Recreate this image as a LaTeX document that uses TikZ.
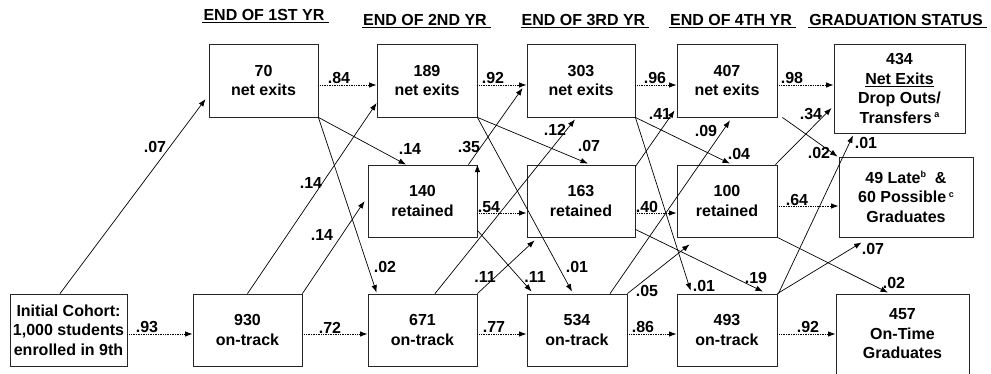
\documentclass[tikz,border=0pt]{standalone}
\usepackage{fontspec}
\setmainfont{Liberation Sans}
\usetikzlibrary{arrows.meta}
\newcommand{\supx}[1]{\raisebox{5.5pt}{\fontsize{9}{9}\selectfont #1}}
\begin{document}
\begin{tikzpicture}[x=1pt,y=-1pt,
  txt/.style={font=\bfseries\fontsize{16}{19.5}\selectfont},
  box/.style={txt, draw=black!85, line width=0.8pt, inner sep=0pt, align=center, fill=white},
  lab/.style={txt, inner sep=0pt},
  hdr/.style={txt, inner sep=0pt, anchor=base},
  arr/.style={-{Latex[length=7.5pt,width=5.5pt]}, line width=0.7pt, black},
  darr/.style={arr, densely dotted, line width=0.9pt}
]
\useasboundingbox[fill=white] (0,0) rectangle (991,373);

% headers
\node[hdr] (h1) at (264,20.7) {END OF 1ST YR};
\node[hdr] (h2) at (425,25.7) {END OF 2ND YR};
\node[hdr] (h3) at (583.5,25.7) {END OF 3RD YR};
\node[hdr] (h4) at (731,25.7) {END OF 4TH YR};
\node[hdr] (h5) at (896,25.7) {GRADUATION STATUS};
\foreach \h in {h1,h2,h3,h4,h5}
  \draw[line width=0.8pt] ([xshift=-1pt,yshift=-2pt]\h.base west) -- ([xshift=4pt,yshift=-2pt]\h.base east);

% boxes
\node[box, minimum width=117pt, minimum height=72pt] (init) at (68.5,330) {Initial Cohort:\\1,000 students\\enrolled in 9th};
\node[box, minimum width=109pt, minimum height=72pt] (o1) at (247.5,330) {930\\on-track};
\node[box, minimum width=109pt, minimum height=73pt] (e1) at (263.5,80.5) {70\\net exits};
\node[box, minimum width=100pt, minimum height=73pt] (e2) at (427,80.5) {189\\net exits};
\node[box, minimum width=109pt, minimum height=72pt] (r2) at (422.5,201) {140\\retained};
\node[box, minimum width=109pt, minimum height=72pt] (o2) at (422.5,330) {671\\on-track};
\node[box, minimum width=108pt, minimum height=73pt] (e3) at (581,80.5) {303\\net exits};
\node[box, minimum width=108pt, minimum height=72pt] (r3) at (581,201) {163\\retained};
\node[box, minimum width=100pt, minimum height=72pt] (o3) at (577,330) {534\\on-track};
\node[box, minimum width=100pt, minimum height=73pt] (e4) at (727,80.5) {407\\net exits};
\node[box, minimum width=100pt, minimum height=72pt] (r4) at (727,201) {100\\retained};
\node[box, minimum width=100pt, minimum height=72pt] (o4) at (727,330) {493\\on-track};
\node[box, minimum width=131pt, minimum height=89pt] (gx) at (899.5,88.5) {434\\\underline{Net Exits}\\Drop Outs/\\Transfers\,\supx{a}};
\node[box, minimum width=134pt, minimum height=80pt] (gl) at (906,197) {49 Late\supx{b}\ \ \&\\60 Possible\,\supx{c}\\Graduates};
\node[box, minimum width=133pt, minimum height=80pt] (gt) at (902.5,334) {457\\On-Time\\Graduates};

% horizontal (dotted) connectors
\draw[darr] ([yshift=-4pt]init.east) -- ([yshift=-4pt]o1.west);
\draw[darr] ([yshift=-4pt]o1.east) -- ([yshift=-4pt]o2.west);
\draw[darr] ([yshift=-4pt]o2.east) -- ([yshift=-4pt]o3.west);
\draw[darr] ([yshift=-4pt]o3.east) -- ([yshift=-4pt]o4.west);
\draw[darr] ([yshift=-4pt]o4.east) -- (gt.west);
\draw[darr] ([yshift=-4.5pt]e1.east) -- ([yshift=-4.5pt]e2.west);
\draw[darr] ([yshift=-4.5pt]e2.east) -- ([yshift=-4.5pt]e3.west);
\draw[darr] ([yshift=-4.5pt]e3.east) -- ([yshift=-4.5pt]e4.west);
\draw[darr] ([yshift=-4.5pt]e4.east) -- ([yshift=3.5pt]gx.west);
\draw[darr] ([yshift=-12pt]r2.east) -- ([yshift=-12pt]r3.west);
\draw[darr] ([yshift=-12pt]r3.east) -- ([yshift=-12pt]r4.west);
\draw[darr] ([yshift=-5pt]r4.east) -- ([yshift=-9pt]gl.west);

% diagonal connectors
\draw[arr] ([xshift=-8.5pt]init.north) -- ([xshift=-3pt,yshift=-18.5pt]e1.west);
\draw[arr] (e1.south east) -- ([xshift=-16.5pt]r2.north);
\draw[arr] (e1.south east) -- ([xshift=9pt,yshift=1pt]o2.north west);
\draw[arr] (o1.north) -- ([yshift=-22.5pt]e2.west);
\draw[arr] (o1.north east) -- ([xshift=-3pt]r2.west);

\draw[arr] (e2.south east) -- ([xshift=7pt,yshift=1pt]r3.north);
\draw[arr] (e2.south east) -- ([xshift=-5pt,yshift=2pt]o3.north);
\draw[arr] ([xshift=-9pt]r2.north east) -- ([xshift=-4pt,yshift=-7.5pt]e3.west);
\draw[arr] ([yshift=-9pt]r2.north east) -- (r2.north east);
\draw[arr] ([yshift=7pt]r2.south east) -- ([xshift=5pt,yshift=2pt]o3.north west);
\draw[arr] ([xshift=12.5pt]o2.north) -- ([xshift=-6pt,yshift=-2pt]e3.south);
\draw[arr] (o2.north east) -- ([xshift=8pt,yshift=-3pt]r3.south west);

\draw[arr] (e3.south east) -- ([xshift=3pt,yshift=1pt]r4.north);
\draw[arr] (e3.south east) -- ([xshift=14pt,yshift=3pt]o4.north west);
\draw[arr] ([yshift=-2pt]r3.north east) -- ([xshift=-2pt,yshift=7pt]e4.south west);
\draw[arr] ([yshift=8pt]r3.south east) -- ([xshift=36pt,yshift=2pt]o4.north);
\draw[arr] ([xshift=33pt]o3.north) -- ([xshift=3pt,yshift=-3pt]e4.south);
\draw[arr] (o3.north east) -- ([xshift=13pt,yshift=-7pt]r4.south west);

\draw[arr] ([xshift=5pt]e4.south east) -- ([xshift=-1pt]gl.north west);
\draw[arr] ([xshift=-2pt]r4.north east) -- ([xshift=-2pt,yshift=-19.5pt]gx.west);
\draw[arr] (r4.south east) -- ([xshift=-14.5pt,yshift=1pt]gt.north);
\draw[arr] ([xshift=1pt]o4.north east) -- ([xshift=-46.5pt,yshift=-2pt]gx.south);
\draw[arr] (o4.north east) -- ([xshift=23pt,yshift=-5pt]gl.south west);

% labels
\node[lab] (l01) at (155,147) {.07};
\node[lab] (l02) at (147,327) {.93};
\node[lab] (l03) at (339,78) {.84};
\node[lab] (l04) at (410,149) {.14};
\node[lab] (l05) at (385,267) {.02};
\node[lab] (l06) at (311,183) {.14};
\node[lab] (l07) at (322,235) {.14};
\node[lab] (l08) at (330,328) {.72};
\node[lab] (l09) at (493,78) {.92};
\node[lab] (l10) at (589,146) {.07};
\node[lab] (l11) at (577,267) {.01};
\node[lab] (l12) at (469,147) {.35};
\node[lab] (l13) at (489,207) {.54};
\node[lab] (l14) at (535,277) {.11};
\node[lab] (l15) at (555,130) {.12};
\node[lab] (l16) at (485,277) {.11};
\node[lab] (l17) at (494,327) {.77};
\node[lab] (l18) at (655,78) {.96};
\node[lab] (l19) at (739,154) {.04};
\node[lab] (l20) at (704,286) {.01};
\node[lab] (l21) at (660,114) {.41};
\node[lab] (l22) at (647,207) {.40};
\node[lab] (l23) at (756,278) {.19};
\node[lab] (l24) at (706,131) {.09};
\node[lab] (l25) at (647,291) {.05};
\node[lab] (l26) at (643,327) {.86};
\node[lab] (l27) at (792,78) {.98};
\node[lab] (l28) at (819,153) {.02};
\node[lab] (l29) at (811,114) {.34};
\node[lab] (l30) at (797,200) {.64};
\node[lab] (l31) at (894,283) {.02};
\node[lab] (l32) at (866,143) {.01};
\node[lab] (l33) at (873,249) {.07};
\node[lab] (l34) at (808,327) {.92};
\end{tikzpicture}
\end{document}
